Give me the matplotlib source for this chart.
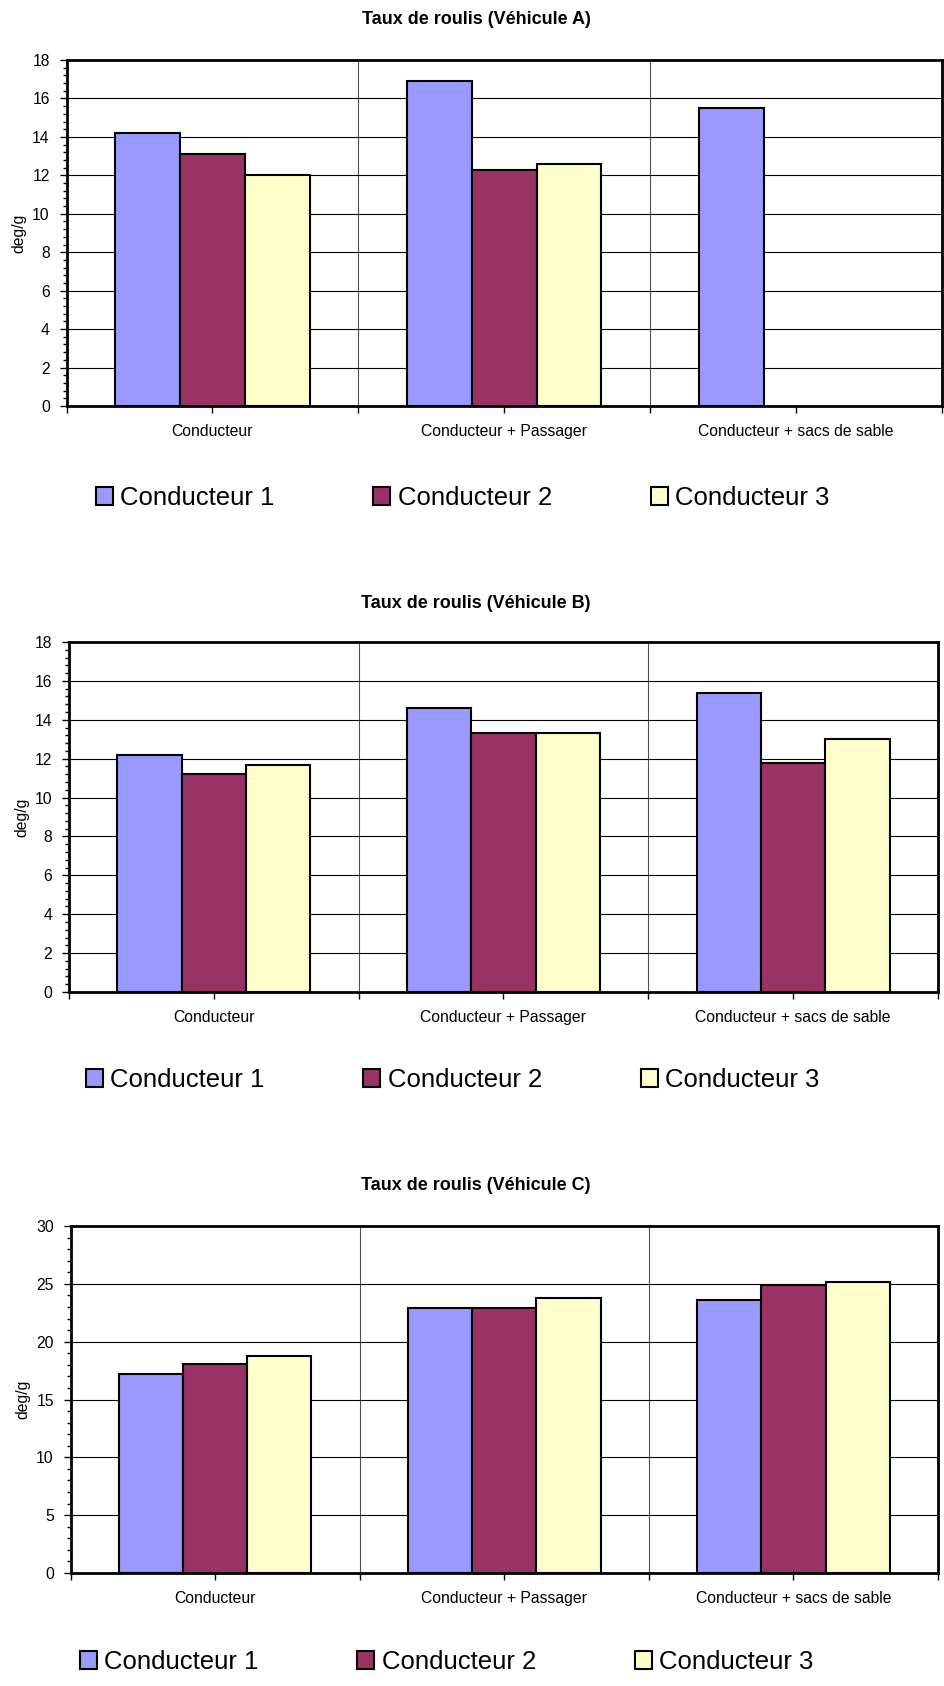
import numpy as np
import matplotlib
matplotlib.use("Agg")
import matplotlib.pyplot as plt
from matplotlib.ticker import MultipleLocator

plt.rcParams['font.family'] = ['Liberation Sans', 'DejaVu Sans']

categories = ["Conducteur", "Conducteur + Passager", "Conducteur + sacs de sable"]
series_names = ["Conducteur 1", "Conducteur 2", "Conducteur 3"]
colors = ["#9999FF", "#993366", "#FFFFCC"]

# Roll rate per driver (deg/g), one list per load case order above
veh_a_c1 = [14.2, 16.9, 15.5]
veh_a_c2 = [13.1, 12.3, np.nan]
veh_a_c3 = [12.0, 12.6, np.nan]

veh_b_c1 = [12.2, 14.6, 15.4]
veh_b_c2 = [11.2, 13.3, 11.8]
veh_b_c3 = [11.7, 13.3, 13.0]

veh_c_c1 = [17.2, 22.9, 23.6]
veh_c_c2 = [18.1, 22.9, 24.9]
veh_c_c3 = [18.8, 23.8, 25.2]

titles = ["Taux de roulis (Véhicule A)", "Taux de roulis (Véhicule B)", "Taux de roulis (Véhicule C)"]
y_max = [18, 18, 30]
y_major = [2, 2, 5]
y_minor = [0.4, 0.4, 1]

W, H = 944, 1686
fig = plt.figure(figsize=(W / 100, H / 100), dpi=100)

# pixel boxes: left, right, top, bottom ; title y, legend y, legend x
boxes = [
    (66.5, 942, 60, 406, 20, 498, 96),
    (69, 938, 642, 992, 603, 1080, 86),
    (70.5, 938, 1226, 1573, 1185, 1662, 80),
]

data = [
    [veh_a_c1, veh_a_c2, veh_a_c3],
    [veh_b_c1, veh_b_c2, veh_b_c3],
    [veh_c_c1, veh_c_c2, veh_c_c3],
]

bar_w = 0.222
x = np.arange(len(categories)) + 0.5

for k in range(3):
    l, r, t, b, ty, ly, lx = boxes[k]
    ax = fig.add_axes([l / W, 1 - b / H, (r - l) / W, (b - t) / H])
    handles = []
    for i, vals in enumerate(data[k]):
        vals = np.asarray(vals, dtype=float)
        ok = ~np.isnan(vals)
        h = ax.bar(x[ok] + (i - 1) * bar_w, vals[ok], width=bar_w,
                   color=colors[i], edgecolor="black", linewidth=1.5,
                   zorder=3, label=series_names[i])
        handles.append(h)

    ax.set_xlim(0, 3)
    ax.set_ylim(0, y_max[k])
    ax.yaxis.set_major_locator(MultipleLocator(y_major[k]))
    ax.yaxis.set_minor_locator(MultipleLocator(y_minor[k]))
    ax.set_xticks([0, 1, 2, 3])
    ax.set_xticklabels([])
    ax.set_xticks(x, categories, minor=True)
    ax.tick_params(axis="x", which="both", length=5, width=1, pad=8,
                   labelsize=11.3, direction="out")
    ax.tick_params(axis="y", which="major", length=5, width=1, pad=7,
                   labelsize=11.3, direction="out")
    ax.tick_params(axis="y", which="minor", length=3, width=1, direction="out")

    ax.grid(axis="y", which="major", color="black", linewidth=0.8, zorder=1)
    for xv in [1, 2]:
        ax.axvline(xv, color="#505050", linewidth=0.8, zorder=1)

    for s in ax.spines.values():
        s.set_linewidth(2)
        s.set_color("black")
        s.set_zorder(4)

    ax.set_ylabel("deg/g", fontsize=11.3, labelpad=4)
    fig.text(476 / W, 1 - ty / H, titles[k], ha="center",
             va="center", fontsize=13, fontweight="bold")

    fig.legend(handles=handles, labels=series_names, ncol=3,
               loc="center left", bbox_to_anchor=(lx / W, 1 - ly / H),
               frameon=False, fontsize=18.5, handlelength=0.66,
               handleheight=0.66, handletextpad=0.28, columnspacing=3.85,
               borderpad=0, borderaxespad=0)

fig.savefig("out.png", dpi=100)
